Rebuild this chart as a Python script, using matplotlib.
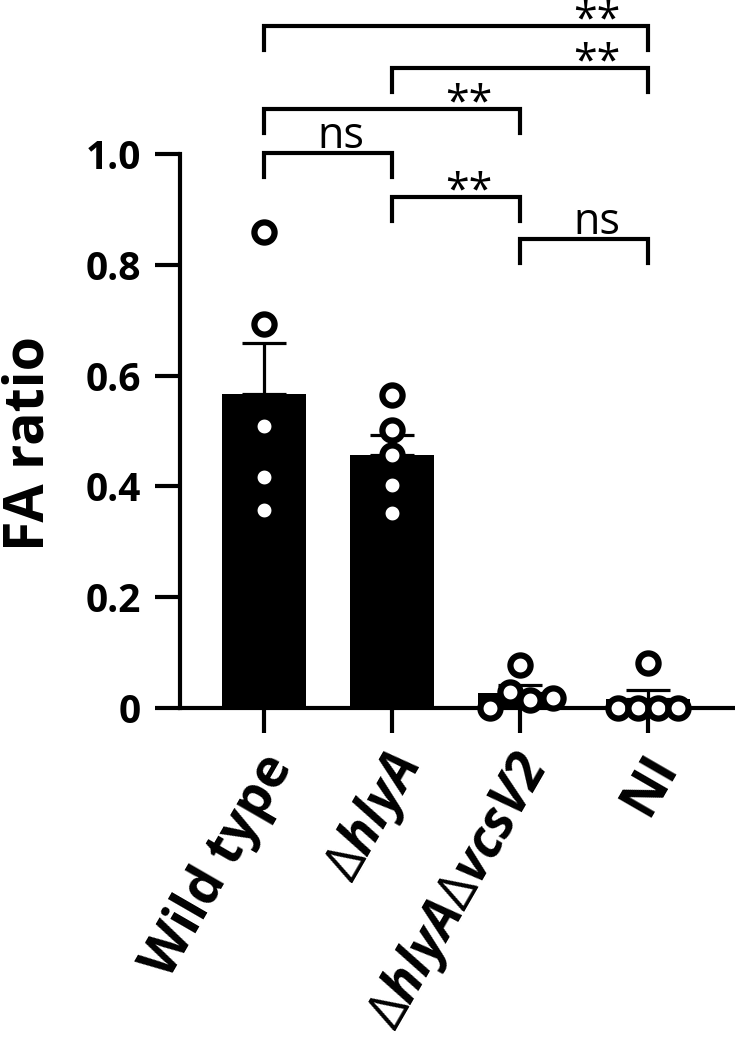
import numpy as np
import matplotlib
matplotlib.use('Agg')
import matplotlib.pyplot as plt
import matplotlib.transforms as mtransforms

plt.rcParams['font.family'] = ['Open Sans', 'DejaVu Sans']
plt.rcParams['mathtext.fontset'] = 'custom'
plt.rcParams['mathtext.rm'] = 'Open Sans'
plt.rcParams['mathtext.bf'] = 'Open Sans:bold'
plt.rcParams['mathtext.it'] = 'Open Sans:italic'
plt.rcParams['mathtext.bfit'] = 'Open Sans:italic:bold'

# data
groups = ['Wild type', r'$\Delta\mathbfit{hlyA}$',
          r'$\Delta\mathbfit{hlyA}\Delta\mathbfit{vcsV2}$', 'NI']
wild_type = [0.859, 0.693, 0.509, 0.417, 0.357]
hlya = [0.565, 0.502, 0.457, 0.403, 0.352]
hlya_vcsv2 = [0.078, 0.0, 0.029, 0.014, 0.018]
ni = [0.081, 0.0, 0.0, 0.0, 0.0]
all_points = [wild_type, hlya, hlya_vcsv2, ni]

# comparisons: (group a, group b, bracket height, label)
comparisons = [(0, 3, 1.231, '**'),
               (1, 3, 1.155, '**'),
               (0, 2, 1.081, '**'),
               (0, 1, 1.002, 'ns'),
               (1, 2, 0.922, '**'),
               (2, 3, 0.847, 'ns')]

# horizontal scatter offsets of the dots (swarm layout)
swarm = [[0, 0, 0, 0, 0],
         [0, 0, 0, 0, 0],
         [0, -0.234, -0.078, 0.078, 0.258],
         [0, -0.234, -0.078, 0.078, 0.234]]

means = [np.mean(v) for v in all_points]
sems = [np.std(v, ddof=1) / np.sqrt(len(v)) for v in all_points]
x = np.arange(len(groups))

fig = plt.figure(figsize=(7.35, 10.45), dpi=100)
ax = fig.add_axes([0.2449, 0.3225, 0.7551, 0.5301])

ax.bar(x, means, width=0.66, color='black', zorder=1)
ax.errorbar(x, means, yerr=[np.zeros(len(x)), sems], fmt='none', ecolor='black',
            elinewidth=2.3, capsize=16, capthick=2.3, zorder=2, clip_on=False)
for i, vals in enumerate(all_points):
    ax.plot(x[i] + np.array(swarm[i]), vals, 'o', mfc='white', mec='black',
            ms=14.5, mew=4.5, clip_on=False, zorder=5)

ax.set_xlim(-0.656, 3.68)
ax.set_ylim(0, 1.0)
ax.tick_params(axis='both', length=18, width=3, direction='out', color='black')
ax.tick_params(axis='y', pad=10)
ax.tick_params(axis='x', pad=12)
ax.set_yticks([0, 0.2, 0.4, 0.6, 0.8, 1.0])
ax.set_yticklabels(['0', '0.2', '0.4', '0.6', '0.8', '1.0'], fontsize=28, fontweight='bold')
ax.set_xticks(x)
ax.set_xticklabels(groups, fontsize=38, fontweight='bold', rotation=60,
                   ha='right', va='center', rotation_mode='anchor')
# nudge the rotated labels right/down like in the original
shift = mtransforms.ScaledTranslation(0.17, -0.09, fig.dpi_scale_trans)
for lbl in ax.get_xticklabels():
    lbl.set_transform(lbl.get_transform() + shift)

for side in ['top', 'right']:
    ax.spines[side].set_visible(False)
for side in ['left', 'bottom']:
    ax.spines[side].set_linewidth(3)

ax.set_ylabel('FA ratio', fontsize=40, fontweight='bold')
ax.yaxis.set_label_coords(-0.222, 0.478)

leg = 0.043
for a, b, h, lab in comparisons:
    ax.plot([a, a, b, b], [h - leg, h, h, h - leg], color='black', lw=3,
            clip_on=False, solid_joinstyle='miter')
    off = 0.009 if lab == 'ns' else -0.012
    ax.text(b - 0.4, h + off, lab, ha='center', va='baseline', fontsize=31)

fig.savefig('out.png', dpi=100)
